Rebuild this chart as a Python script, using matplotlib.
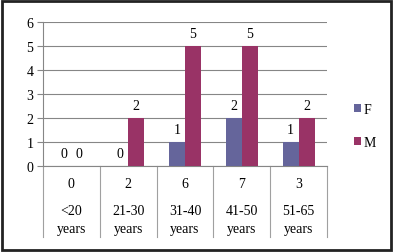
import numpy as np
import matplotlib.pyplot as plt
from matplotlib.patches import Rectangle
from matplotlib.transforms import blended_transform_factory

plt.rcParams['font.family'] = 'Liberation Serif'

groups = ['<20', '21-30', '31-40', '41-50', '51-65']
totals = [0, 2, 6, 7, 3]
female = [0, 0, 1, 2, 1]
male = [0, 2, 5, 5, 2]

col_f = '#65659b'
col_m = '#993366'

fig = plt.figure(figsize=(3.93, 2.53), dpi=100)
ax = fig.add_axes([43 / 393, 86 / 253, 284 / 393, 144 / 253])

x = np.arange(len(groups))
w = 0.28
bf = ax.bar(x - w / 2, female, w, color=col_f, label='F', zorder=3)
bm = ax.bar(x + w / 2, male, w, color=col_m, label='M', zorder=3)

for bars, vals in ((bf, female), (bm, male)):
    for b, v in zip(bars, vals):
        ax.text(b.get_x() + b.get_width() / 2, v + 0.25, str(v),
                ha='center', va='bottom', fontsize=10)

ax.set_xlim(-0.5, 4.5)
ax.set_ylim(0, 6)
ax.set_yticks(range(7))
ax.yaxis.grid(True, color='#868686', lw=0.8, zorder=0)
ax.set_xticks([])
ax.tick_params(axis='y', labelsize=10, length=4, color='#868686', pad=3)
for s in ['top', 'right']:
    ax.spines[s].set_visible(False)
ax.spines['left'].set_color('#868686')
ax.spines['bottom'].set_color('#868686')

# table-like category labels under the axis
tr = blended_transform_factory(ax.transData, ax.transAxes)
for xs in np.arange(-0.5, 5, 1):
    ax.plot([xs, xs], [0, -0.493], color='#a0a0a0', lw=0.8,
            transform=tr, clip_on=False)
for i, g in enumerate(groups):
    ax.text(i, -0.125, str(totals[i]), transform=tr, ha='center', va='center', fontsize=10)
    ax.text(i, -0.31, g, transform=tr, ha='center', va='center', fontsize=10)
    ax.text(i, -0.435, 'years', transform=tr, ha='center', va='center', fontsize=10)

fig.legend(handles=[bf, bm], loc='center left', bbox_to_anchor=(341 / 393, 1 - 127 / 253),
           frameon=False, fontsize=10, handlelength=0.55, handleheight=0.55,
           handletextpad=0.15, labelspacing=1.45)

fig.add_artist(Rectangle((0.004, 0.006), 0.99, 0.988, transform=fig.transFigure,
                         fill=False, ec='#222222', lw=2))

fig.savefig('out.png', dpi=100)
